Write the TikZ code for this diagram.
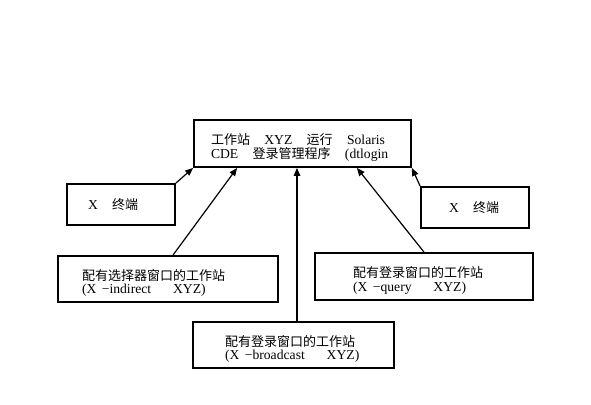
\documentclass[tikz,border=0pt]{standalone}
\usepackage{fontspec}
\setmainfont[Scale=1.05]{Liberation Serif}
\newfontfamily\cjk{Noto Sans CJK SC}
\usetikzlibrary{arrows.meta,calc}
\newcommand{\wsp}{\hspace{1.05em}}
\newcommand{\wwsp}{\hspace{1.6em}}

\begin{document}
\begin{tikzpicture}[x=1pt, y=-1pt, >={Triangle[length=8pt,width=6.5pt]},
  font=\fontsize{13}{13.5}\selectfont,
  box/.style={draw, line width=1.8pt, align=left, inner ysep=0pt, minimum height=46pt},
  twoline/.style={box, execute at begin node={\rule{0pt}{19pt}}},
  link/.style={->, line width=1.2pt}]
\useasboundingbox (0,0) rectangle (591,404);
% login manager on host XYZ
\node[twoline, text width=183pt, inner xsep=17pt, minimum height=47pt] (dm) at (302.5,143.5)
  {{\cjk 工作站}\wsp XYZ\wsp{\cjk 运行}\wsp Solaris\\CDE\wsp{\cjk 登录管理程序}\wsp(dtlogin};
% X terminals
\node[box, text width=66pt, inner xsep=21pt, minimum height=41pt] (xl) at (121,204.5) {X\wsp{\cjk 终端}};
\node[box, text width=52pt, inner xsep=28pt, minimum height=41pt] (xr) at (475,207.5) {X\wsp{\cjk 终端}};
% workstations with chooser / login window
\node[twoline, text width=172pt, inner xsep=24pt] (sel) at (168,279)
  {{\cjk 配有选择器窗口的工作站}\\(X\hspace{0.4em}−indirect\wwsp XYZ)};
\node[twoline, text width=142pt, inner xsep=38pt, minimum height=47pt] (qry) at (424,276.5)
  {{\cjk 配有登录窗口的工作站}\\(X\hspace{0.4em}−query\wwsp XYZ)};
\node[twoline, text width=137pt, inner xsep=32pt] (bc) at (293.5,345)
  {{\cjk 配有登录窗口的工作站}\\(X\hspace{0.4em}−broadcast\wwsp XYZ)};
\draw[link] (xl.north east) -- (dm.south west);
\draw[link] (xr.north west) -- (dm.south east);
\draw[link] ([xshift=5pt]sel.north) -- ([xshift=44pt]dm.south west);
\draw[link] (qry.north) -- ([xshift=-55pt]dm.south east);
\draw[link] ([xshift=3.5pt]bc.north) -- ([xshift=3.5pt]bc.north |- dm.south);
\end{tikzpicture}
\end{document}
